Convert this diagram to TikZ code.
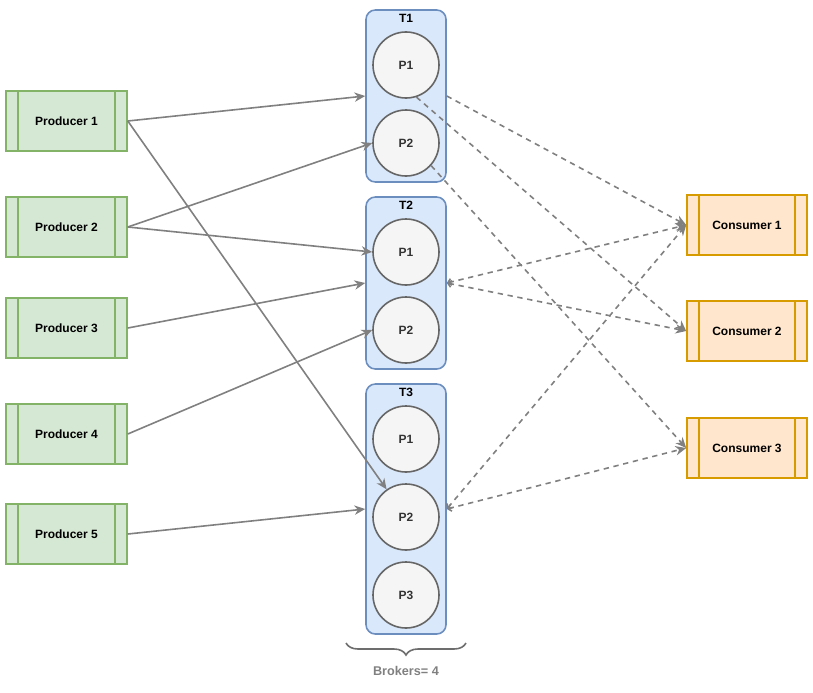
\documentclass[tikz,border=0pt]{standalone}
\usepackage{fontspec}
\setmainfont{Liberation Sans}
\usetikzlibrary{arrows.meta,positioning,decorations.pathreplacing}

\definecolor{prodfill}{HTML}{D5E8D4}
\definecolor{proddraw}{HTML}{82B366}
\definecolor{consfill}{HTML}{FFE6CC}
\definecolor{consdraw}{HTML}{D79B00}
\definecolor{brkfill}{HTML}{DAE8FC}
\definecolor{brkdraw}{HTML}{6C8EBF}
\definecolor{partfill}{HTML}{F5F5F5}
\definecolor{partdraw}{HTML}{666666}
\definecolor{edgegray}{HTML}{808080}

\begin{document}
\begin{tikzpicture}[x=0.75pt, y=-0.75pt,
        proc/.style={rectangle, draw=#1, line width=1.2pt, minimum width=90.75pt, minimum height=45pt,
            font=\fontsize{9}{11}\selectfont\bfseries, inner sep=0pt,
            path picture={
                \draw[#1, line width=1.2pt] ([xshift=9pt]path picture bounding box.north west) -- ([xshift=9pt]path picture bounding box.south west);
                \draw[#1, line width=1.2pt] ([xshift=-9pt]path picture bounding box.north east) -- ([xshift=-9pt]path picture bounding box.south east);}},
        prod/.style={proc=proddraw, fill=prodfill},
        cons/.style={proc=consdraw, fill=consfill, minimum width=90pt},
        brk/.style={rectangle, rounded corners=7pt, draw=brkdraw, fill=brkfill, line width=1.2pt, minimum width=60pt},
        part/.style={circle, draw=partdraw, fill=partfill, line width=1.2pt, minimum size=49.5pt, inner sep=0pt,
            font=\fontsize{9}{11}\selectfont\bfseries, text=black!80},
        tname/.style={anchor=north, inner sep=3.5pt, font=\fontsize{9}{11}\selectfont\bfseries},
        send/.style={-{Stealth[length=8pt, width=7pt, inset=2.5pt]}, edgegray, line width=1.2pt},
        pull/.style={-{Stealth[length=8pt, width=7pt, inset=2.5pt]}, edgegray, line width=1.2pt, dash pattern=on 4pt off 3.5pt},
        pullb/.style={{Straight Barb[length=2.5pt, width=5pt]}-{Stealth[length=8pt, width=7pt, inset=2.5pt]}, edgegray, line width=1.2pt, dash pattern=on 4pt off 3.5pt}]
        \useasboundingbox (0,0) rectangle (813,692);
        % Producers
        \node[prod] (p1) at (66.5,121) {Producer 1};
        \node[prod] (p2) at (66.5,227) {Producer 2};
        \node[prod] (p3) at (66.5,328) {Producer 3};
        \node[prod] (p4) at (66.5,434) {Producer 4};
        \node[prod] (p5) at (66.5,534) {Producer 5};
        % Brokers
        \node[brk, minimum height=129pt]   (t1) at (406,96)  {};
        \node[brk, minimum height=129pt]   (t2) at (406,283) {};
        \node[brk, minimum height=187.5pt] (t3) at (406,509) {};
        \node[tname] (t1n) at (t1.north) {T1};
        \node[tname] (t2n) at (t2.north) {T2};
        \node[tname] (t3n) at (t3.north) {T3};
        % Partitions
        \node[part] (t1p1) at (406,65)  {P1};
        \node[part] (t1p2) at (406,143) {P2};
        \node[part] (t2p1) at (406,252) {P1};
        \node[part] (t2p2) at (406,330) {P2};
        \node[part] (t3p1) at (406,439) {P1};
        \node[part] (t3p2) at (406,517) {P2};
        \node[part] (t3p3) at (406,595) {P3};
        % Consumers
        \node[cons] (c1) at (747,225) {Consumer 1};
        \node[cons] (c2) at (747,331) {Consumer 2};
        \node[cons] (c3) at (747,448) {Consumer 3};
        % Producer arrows
        \draw[send] (p1.east) -- (t1.west);
        \draw[send] (p1.east) -- (t3p2);
        \draw[send] (p2.east) -- (t1p2.west);
        \draw[send] (p2.east) -- (t2p1.west);
        \draw[send] (p3.east) -- (t2.west);
        \draw[send] (p4.east) -- (t2p2.west);
        \draw[send] (p5.east) -- (t3.west);
        % Consumer arrows
        \draw[pull] (t1.east) -- (c1.west);
        \draw[pull] (t1p1.-72) -- (c2.west);
        \draw[pull] (t1p2.-42) -- (c3.west);
        \draw[pullb] (t2.east) -- (c1.west);
        \draw[pullb] (t2.east) -- (c2.west);
        \draw[pullb] (t3.east) -- (c1.west);
        \draw[pullb] (t3.east) -- (c3.west);
        % Brace
        \coordinate (bl) at (346,643);
        \coordinate (br) at (466,643);
        \draw[decorate, decoration={brace, amplitude=9pt, mirror}, edgegray!85!black, line width=1.2pt] (bl) -- (br);
        \node[font=\fontsize{9.5}{11}\selectfont\bfseries, text=edgegray] (bcount) at (406,671) {Brokers= 4};
\end{tikzpicture}
\end{document}
